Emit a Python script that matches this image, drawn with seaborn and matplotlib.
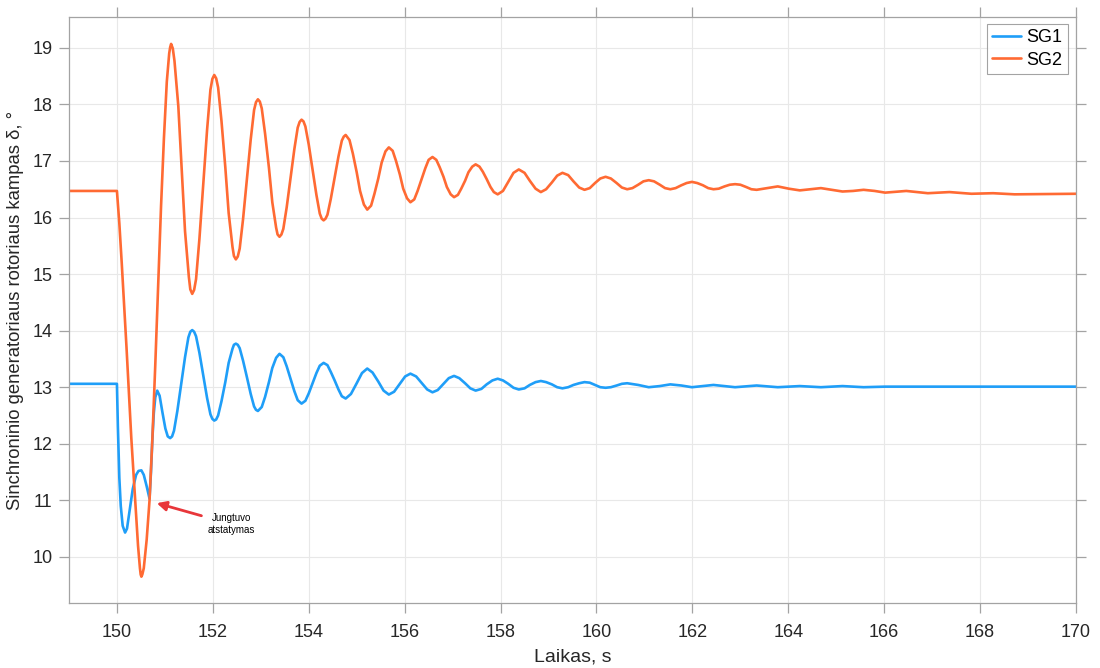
import matplotlib
matplotlib.use("Agg")
import matplotlib.pyplot as plt
import seaborn as sns
import pandas as pd

# ---------------- data ----------------
sg1_t = [149.00, 150.00, 150.02, 150.05, 150.08, 150.12, 150.17, 150.21, 150.27, 150.33,
         150.40, 150.45, 150.51, 150.56, 150.62, 150.68, 150.71, 150.74, 150.77, 150.80,
         150.84, 150.89, 150.95, 151.01, 151.06, 151.11, 151.19, 151.26, 151.34, 151.42,
         151.49, 151.57, 151.65, 151.72, 151.80, 151.88, 151.95, 152.03, 152.11, 152.18,
         152.26, 152.33, 152.41, 152.48, 152.56, 152.63, 152.71, 152.79, 152.86, 152.94,
         153.02, 153.09, 153.17, 153.24, 153.32, 153.39, 153.47, 153.54, 153.62, 153.70,
         153.77, 153.85, 153.93, 154.00, 154.08, 154.16, 154.23, 154.31, 154.39, 154.46,
         154.54, 154.62, 154.69, 154.77, 154.88, 155.00, 155.11, 155.22, 155.33, 155.45,
         155.56, 155.67, 155.78, 155.90, 156.01, 156.12, 156.24, 156.35, 156.47, 156.58,
         156.69, 156.81, 156.92, 157.03, 157.14, 157.26, 157.37, 157.48, 157.60, 157.71,
         157.83, 157.94, 158.05, 158.16, 158.27, 158.38, 158.50, 158.61, 158.73, 158.84,
         158.95, 159.07, 159.18, 159.29, 159.41, 159.52, 159.64, 159.75, 159.86, 159.97,
         160.08, 160.19, 160.30, 160.42, 160.53, 160.64, 160.87, 161.09, 161.32, 161.54,
         161.77, 161.99, 162.44, 162.89, 163.34, 163.78, 164.24, 164.68, 165.13, 165.57,
         166.02, 170.00,
         # extra points read close to the first turning points
         151.15, 151.53, 151.61, 151.99, 152.07, 152.44, 152.52, 152.90]
sg1_v = [13.06, 13.06, 12.30, 11.40, 10.90, 10.55, 10.43, 10.50, 10.85, 11.20,
         11.45, 11.52, 11.53, 11.45, 11.25, 11.03, 11.50, 12.10, 12.55, 12.82,
         12.94, 12.85, 12.55, 12.27, 12.13, 12.10, 12.23, 12.58, 13.06, 13.53,
         13.88, 14.01, 13.90, 13.61, 13.21, 12.81, 12.52, 12.41, 12.50, 12.75,
         13.09, 13.43, 13.68, 13.77, 13.69, 13.47, 13.18, 12.88, 12.66, 12.58,
         12.65, 12.83, 13.09, 13.34, 13.52, 13.59, 13.53, 13.37, 13.15, 12.93,
         12.77, 12.71, 12.76, 12.89, 13.07, 13.25, 13.38, 13.43, 13.39, 13.27,
         13.12, 12.96, 12.84, 12.80, 12.88, 13.07, 13.25, 13.33, 13.26, 13.10,
         12.94, 12.87, 12.92, 13.06, 13.19, 13.24, 13.19, 13.08, 12.96, 12.91,
         12.95, 13.06, 13.16, 13.20, 13.16, 13.07, 12.98, 12.94, 12.97, 13.05,
         13.12, 13.15, 13.12, 13.06, 12.99, 12.96, 12.98, 13.04, 13.09, 13.11,
         13.09, 13.05, 13.00, 12.98, 13.00, 13.04, 13.07, 13.09, 13.08, 13.04,
         13.00, 12.99, 13.00, 13.03, 13.06, 13.07, 13.04, 13.00, 13.02, 13.05,
         13.03, 13.00, 13.04, 13.00, 13.03, 13.00, 13.02, 13.00, 13.02, 13.00,
         13.01, 13.01,
         12.13, 13.98, 13.98, 12.44, 12.43, 13.75, 13.75, 12.60]

sg2_t = [149.00, 150.00, 150.05, 150.10, 150.20, 150.30, 150.38, 150.44, 150.48, 150.51,
         150.56, 150.62, 150.68, 150.74, 150.80, 150.86, 150.92, 150.98, 151.04, 151.09,
         151.13, 151.20, 151.28, 151.35, 151.42, 151.50, 151.57, 151.65, 151.72, 151.80,
         151.88, 151.95, 152.03, 152.11, 152.18, 152.26, 152.33, 152.41, 152.48, 152.56,
         152.63, 152.71, 152.79, 152.86, 152.94, 153.02, 153.09, 153.17, 153.24, 153.32,
         153.39, 153.47, 153.54, 153.62, 153.70, 153.77, 153.85, 153.93, 154.00, 154.08,
         154.16, 154.23, 154.31, 154.39, 154.46, 154.54, 154.62, 154.69, 154.77, 154.85,
         154.92, 155.00, 155.07, 155.15, 155.22, 155.30, 155.37, 155.45, 155.52, 155.60,
         155.67, 155.75, 155.82, 155.90, 155.97, 156.05, 156.12, 156.20, 156.27, 156.35,
         156.43, 156.50, 156.58, 156.66, 156.73, 156.81, 156.88, 156.96, 157.03, 157.11,
         157.18, 157.26, 157.33, 157.41, 157.48, 157.56, 157.63, 157.71, 157.79, 157.86,
         157.94, 158.05, 158.16, 158.27, 158.38, 158.50, 158.61, 158.73, 158.84, 158.95,
         159.07, 159.18, 159.29, 159.41, 159.52, 159.64, 159.75, 159.86, 159.97, 160.08,
         160.19, 160.30, 160.42, 160.53, 160.64, 160.75, 160.87, 160.98, 161.09, 161.20,
         161.32, 161.43, 161.54, 161.65, 161.77, 161.88, 161.99, 162.10, 162.22, 162.33,
         162.44, 162.55, 162.67, 162.78, 162.89, 163.00, 163.12, 163.23, 163.34, 163.56,
         163.78, 164.01, 164.24, 164.46, 164.68, 164.91, 165.13, 165.35, 165.57, 165.80,
         166.02, 166.46, 166.91, 167.36, 167.82, 168.27, 168.72, 170.00,
         # extra points read close to the first turning points
         150.495, 150.53, 151.11, 151.165, 151.53, 151.61, 151.99, 152.07, 152.44, 152.52,
         152.90, 152.98, 153.35, 153.43, 153.81, 153.89, 154.27, 154.35, 154.73]
sg2_v = [16.47, 16.47, 15.90, 15.20, 13.70, 12.10, 11.00, 10.20, 9.80, 9.65,
         9.80, 10.30, 11.00, 12.10, 13.40, 14.80, 16.20, 17.40, 18.40, 18.90,
         19.07, 18.77, 17.97, 16.86, 15.76, 14.95, 14.65, 14.91, 15.62, 16.59,
         17.55, 18.26, 18.52, 18.30, 17.71, 16.89, 16.08, 15.48, 15.26, 15.45,
         15.97, 16.68, 17.38, 17.90, 18.09, 17.93, 17.48, 16.88, 16.27, 15.82,
         15.66, 15.80, 16.18, 16.70, 17.21, 17.59, 17.73, 17.61, 17.29, 16.84,
         16.40, 16.07, 15.95, 16.05, 16.33, 16.71, 17.08, 17.36, 17.46, 17.37,
         17.13, 16.80, 16.47, 16.23, 16.14, 16.21, 16.42, 16.69, 16.97, 17.17,
         17.24, 17.18, 17.00, 16.76, 16.51, 16.34, 16.27, 16.32, 16.47, 16.67,
         16.87, 17.02, 17.07, 17.02, 16.89, 16.72, 16.54, 16.41, 16.36, 16.40,
         16.51, 16.65, 16.80, 16.90, 16.94, 16.90, 16.81, 16.68, 16.54, 16.45,
         16.41, 16.47, 16.63, 16.79, 16.85, 16.79, 16.65, 16.51, 16.45, 16.50,
         16.62, 16.74, 16.79, 16.75, 16.64, 16.53, 16.49, 16.52, 16.61, 16.69,
         16.72, 16.69, 16.61, 16.53, 16.50, 16.52, 16.58, 16.64, 16.66, 16.64,
         16.58, 16.52, 16.50, 16.52, 16.57, 16.61, 16.63, 16.61, 16.57, 16.52,
         16.50, 16.51, 16.55, 16.58, 16.59, 16.58, 16.54, 16.50, 16.49, 16.52,
         16.55, 16.51, 16.48, 16.50, 16.52, 16.49, 16.46, 16.47, 16.49, 16.47,
         16.44, 16.47, 16.43, 16.45, 16.42, 16.43, 16.41, 16.42,
         9.69, 9.69, 19.01, 18.99, 14.73, 14.72, 18.45, 18.46, 15.32, 15.31,
         18.04, 18.05, 15.70, 15.70, 17.69, 17.70, 15.98, 15.98, 17.43]

series_names = ["SG1", "SG2"]
x_ticks = [150, 152, 154, 156, 158, 160, 162, 164, 166, 168, 170]
y_ticks = [10, 11, 12, 13, 14, 15, 16, 17, 18, 19]
annot_text = "Jungtuvo\natstatymas"
annot_xy = (150.83, 10.95)
annot_text_xy = (152.38, 10.58)

# ---------------- style ----------------
BLUE = "#1F9EF8"
ORANGE = "#FF6A33"
AXC = "#A3A3A3"
TXT = "#262626"

sns.set_theme(style="white")
plt.rcParams["font.family"] = ["Liberation Sans", "DejaVu Sans"]

fig, ax = plt.subplots(figsize=(11, 6.68), dpi=100)
fig.subplots_adjust(left=0.0627, right=0.9782, top=0.9741, bottom=0.0969)

df1 = pd.DataFrame({"t": sg1_t, "v": sg1_v}).sort_values("t")
df2 = pd.DataFrame({"t": sg2_t, "v": sg2_v}).sort_values("t")
sns.lineplot(data=df1, x="t", y="v", ax=ax, color=BLUE, lw=1.9,
             label=series_names[0], estimator=None, sort=False)
sns.lineplot(data=df2, x="t", y="v", ax=ax, color=ORANGE, lw=1.9,
             label=series_names[1], estimator=None, sort=False)

ax.set_xlim(149, 170)
ax.set_ylim(9.18, 19.54)
ax.set_xticks(x_ticks)
ax.set_yticks(y_ticks)
ax.grid(True, color="#E8E8E8", lw=0.8)
ax.set_axisbelow(True)
for s in ax.spines.values():
    s.set_visible(True)
    s.set_color(AXC)
    s.set_linewidth(0.9)
ax.tick_params(direction="out", length=7, width=0.9, color=AXC,
               labelsize=13, labelcolor=TXT,
               top=True, right=True, bottom=True, left=True,
               labeltop=False, labelright=False)
ax.tick_params(axis="x", pad=8)
ax.tick_params(axis="y", pad=5)

ax.set_xlabel("Laikas, s", fontsize=14, color=TXT, labelpad=5)
ax.set_ylabel("Sinchroninio generatoriaus rotoriaus kampas δ, °",
              fontsize=13.3, color=TXT, labelpad=6)

leg = ax.legend(loc="upper right", bbox_to_anchor=(0.992, 0.989),
                borderaxespad=0, fontsize=13, frameon=True, fancybox=False,
                handlelength=1.6, handletextpad=0.3, borderpad=0.3,
                labelspacing=0.3)
leg.get_frame().set_edgecolor("#8C8C8C")
leg.get_frame().set_linewidth(0.8)
for txt in leg.get_texts():
    txt.set_color("#000000")

ax.annotate(annot_text, xy=annot_xy, xytext=annot_text_xy,
            fontsize=7, ha="center", va="center", color="#000000",
            arrowprops=dict(arrowstyle="-|>", color="#E8363A", lw=2.0,
                            mutation_scale=14, shrinkA=2, shrinkB=0))

fig.savefig("out.png", dpi=100)
